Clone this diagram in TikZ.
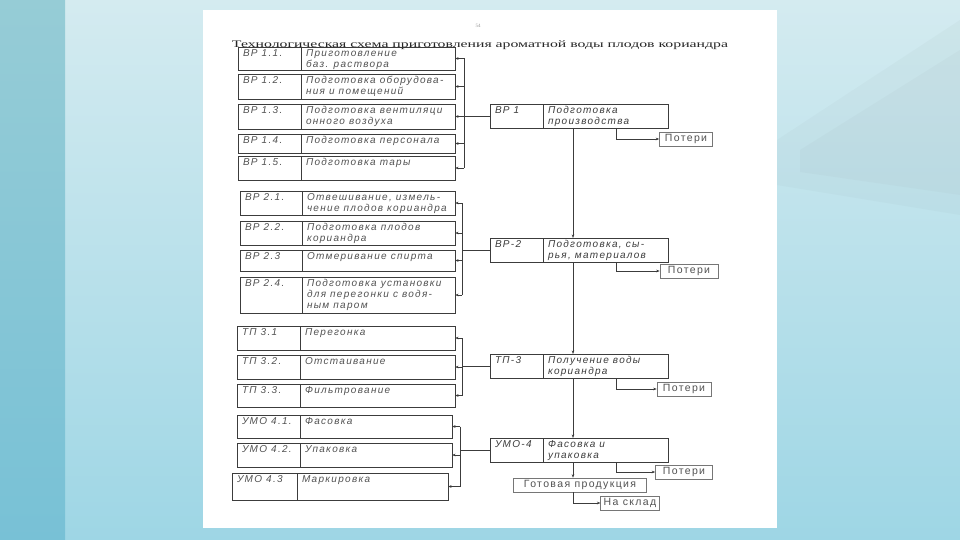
\documentclass[tikz,border=0pt]{standalone}
\usepackage{fontspec}
\usepackage{graphicx}
\setmainfont{Liberation Serif}
\newfontfamily\scanfont[LetterSpace=13]{Liberation Sans}
\usetikzlibrary{positioning,arrows.meta}

\definecolor{ink}{RGB}{60,60,60}
\definecolor{inktext}{RGB}{82,82,82}
\definecolor{slidetop}{RGB}{212,235,240}
\definecolor{slidebot}{RGB}{158,214,229}
\definecolor{striptop}{RGB}{150,204,214}
\definecolor{stripbot}{RGB}{120,193,214}

\tikzset{
  stepcell/.style 2 args={draw=ink, line width=0.7pt, anchor=north west, inner sep=0pt, outer sep=0pt,
    font=\scanfont\itshape\fontsize{10}{11}\selectfont, text=inktext,
    execute at begin node={\begin{minipage}[c][#2][t]{#1}\vspace*{2.5pt}\leftskip=5pt\relax},
    execute at end node={\end{minipage}}},
  flowcell/.style 2 args={stepcell={#1}{#2}, text=ink},
  lossbox/.style={draw=ink!70, line width=0.5pt, inner xsep=3pt, inner ysep=0pt, minimum height=14pt,
    font=\scanfont\fontsize{10.5}{11}\selectfont, text=inktext},
  link/.style={draw=ink, line width=0.6pt}
}

\begin{document}
\begin{tikzpicture}[x=1pt,y=-1pt,>={Stealth[length=3.5pt,width=2.6pt]}]
  \useasboundingbox (0,0) rectangle (960,540);
  % slide and page
  \fill[top color=slidetop,bottom color=slidebot] (0,0) rectangle (960,540);
  \fill[top color=striptop,bottom color=stripbot] (0,0) rectangle (65,540);
  \fill[black!30!slidetop,opacity=0.07] (777,140) -- (960,20) -- (960,215) -- (777,185) -- cycle;
  \fill[black!30!slidetop,opacity=0.07] (800,150) -- (960,50) -- (960,195) -- (800,172) -- cycle;
  \fill[white] (203,10) rectangle (777,528);

  \node[font=\fontsize{5}{6}\selectfont, text=black!40] (page) at (478,26) {54};
  \node[font=\fontsize{10}{12}\selectfont, text=black!85] (title) at (480,45)
    {\resizebox{496pt}{\height}{Технологическая схема приготовления ароматной воды плодов кориандра}};

  % ВР 1.x
  \node[stepcell={63pt}{23pt}] (c11) at (238,47) {ВР 1.1.};
  \node[stepcell={154pt}{23pt}, right=0pt of c11] (s11) {Приготовление\\баз. раствора};
  \node[stepcell={63pt}{25pt}] (c12) at (238,74) {ВР 1.2.};
  \node[stepcell={154pt}{25pt}, right=0pt of c12] (s12) {Подготовка оборудова-\\ния и помещений};
  \node[stepcell={63pt}{25pt}] (c13) at (238,104) {ВР 1.3.};
  \node[stepcell={154pt}{25pt}, right=0pt of c13] (s13) {Подготовка вентиляци\\онного воздуха};
  \node[stepcell={63pt}{19pt}] (c14) at (238,134) {ВР 1.4.};
  \node[stepcell={154pt}{19pt}, right=0pt of c14] (s14) {Подготовка персонала};
  \node[stepcell={63pt}{24pt}] (c15) at (238,156) {ВР 1.5.};
  \node[stepcell={154pt}{24pt}, right=0pt of c15] (s15) {Подготовка тары};

  % ВР 2.x
  \node[stepcell={62pt}{24pt}] (c21) at (240,191) {ВР 2.1.};
  \node[stepcell={153pt}{24pt}, right=0pt of c21] (s21) {Отвешивание, измель-\\чение плодов кориандра};
  \node[stepcell={62pt}{24pt}] (c22) at (240,221) {ВР 2.2.};
  \node[stepcell={153pt}{24pt}, right=0pt of c22] (s22) {Подготовка плодов\\кориандра};
  \node[stepcell={62pt}{21pt}] (c23) at (240,250) {ВР 2.3};
  \node[stepcell={153pt}{21pt}, right=0pt of c23] (s23) {Отмеривание спирта};
  \node[stepcell={62pt}{36pt}] (c24) at (240,277) {ВР 2.4.};
  \node[stepcell={153pt}{36pt}, right=0pt of c24] (s24) {Подготовка установки\\для перегонки с водя-\\ным паром};

  % ТП 3.x
  \node[stepcell={63pt}{24pt}] (c31) at (237,326) {ТП 3.1};
  \node[stepcell={155pt}{24pt}, right=0pt of c31] (s31) {Перегонка};
  \node[stepcell={63pt}{24pt}] (c32) at (237,355) {ТП 3.2.};
  \node[stepcell={155pt}{24pt}, right=0pt of c32] (s32) {Отстаивание};
  \node[stepcell={63pt}{23pt}] (c33) at (237,384) {ТП 3.3.};
  \node[stepcell={155pt}{23pt}, right=0pt of c33] (s33) {Фильтрование};

  % УМО 4.x
  \node[stepcell={63pt}{23pt}] (c41) at (237,415) {УМО 4.1.};
  \node[stepcell={152pt}{23pt}, right=0pt of c41] (s41) {Фасовка};
  \node[stepcell={63pt}{24pt}] (c42) at (237,443) {УМО 4.2.};
  \node[stepcell={152pt}{24pt}, right=0pt of c42] (s42) {Упаковка};
  \node[stepcell={65pt}{27pt}] (c43) at (232,473) {УМО 4.3};
  \node[stepcell={151pt}{27pt}, right=0pt of c43] (s43) {Маркировка};

  % main flow
  \node[flowcell={53pt}{24pt}] (f1c) at (490,104) {ВР 1};
  \node[flowcell={125pt}{24pt}, right=0pt of f1c] (f1) {Подготовка\\производства};
  \node[flowcell={53pt}{24pt}] (f2c) at (490,238) {ВР-2};
  \node[flowcell={125pt}{24pt}, right=0pt of f2c] (f2) {Подготовка, сы-\\рья, материалов};
  \node[flowcell={53pt}{24pt}] (f3c) at (490,354) {ТП-3};
  \node[flowcell={125pt}{24pt}, right=0pt of f3c] (f3) {Получение воды\\кориандра};
  \node[flowcell={53pt}{24pt}] (f4c) at (490,438) {УМО-4};
  \node[flowcell={125pt}{24pt}, right=0pt of f4c] (f4) {Фасовка и\\упаковка};

  \node[lossbox, minimum width=53pt] (loss1) at (686,139) {Потери};
  \node[lossbox, minimum width=58pt] (loss2) at (689,271) {Потери};
  \node[lossbox, minimum width=54pt] (loss3) at (684,389) {Потери};
  \node[lossbox, minimum width=57pt] (loss4) at (684,472) {Потери};
  \node[lossbox, minimum width=133pt] (ready) at (580,485) {Готовая продукция};
  \node[lossbox, minimum width=56pt] (store) at (630,503) {На склад};

  % brackets to the sub-steps
  \coordinate (b1) at (464,0);
  \coordinate (b2) at (462,0);
  \coordinate (b3) at (462,0);
  \coordinate (b4) at (460,0);
  \draw[link] (f1c.west) -- (f1c.west -| b1);
  \draw[link] (b1 |- s11.east) -- (b1 |- s15.east);
  \foreach \n in {11,12,13,14,15} \draw[link,->] (b1 |- s\n.east) -- (s\n.east);
  \draw[link] (f2c.west) -- (f2c.west -| b2);
  \draw[link] (b2 |- s21.east) -- (b2 |- s24.east);
  \foreach \n in {21,22,23,24} \draw[link,->] (b2 |- s\n.east) -- (s\n.east);
  \draw[link] (f3c.west) -- (f3c.west -| b3);
  \draw[link] (b3 |- s31.east) -- (b3 |- s33.east);
  \foreach \n in {31,32,33} \draw[link,->] (b3 |- s\n.east) -- (s\n.east);
  \draw[link] (f4c.west) -- (f4c.west -| b4);
  \draw[link] (b4 |- s41.east) -- (b4 |- s43.east);
  \foreach \n in {41,42,43} \draw[link,->] (b4 |- s\n.east) -- (s\n.east);

  % spine and losses
  \coordinate (spine) at (573,0);
  \coordinate (lossx) at (616,0);
  \draw[link,->] (f1.south -| spine) -- (f2.north -| spine);
  \draw[link,->] (f2.south -| spine) -- (f3.north -| spine);
  \draw[link,->] (f3.south -| spine) -- (f4.north -| spine);
  \draw[link,->] (f4.south -| spine) -- (ready.north -| spine);
  \draw[link,->] (ready.south -| spine) |- (store.west);
  \foreach \n in {1,2,3,4} \draw[link,->] (f\n.south -| lossx) |- (loss\n.west);
\end{tikzpicture}
\end{document}
